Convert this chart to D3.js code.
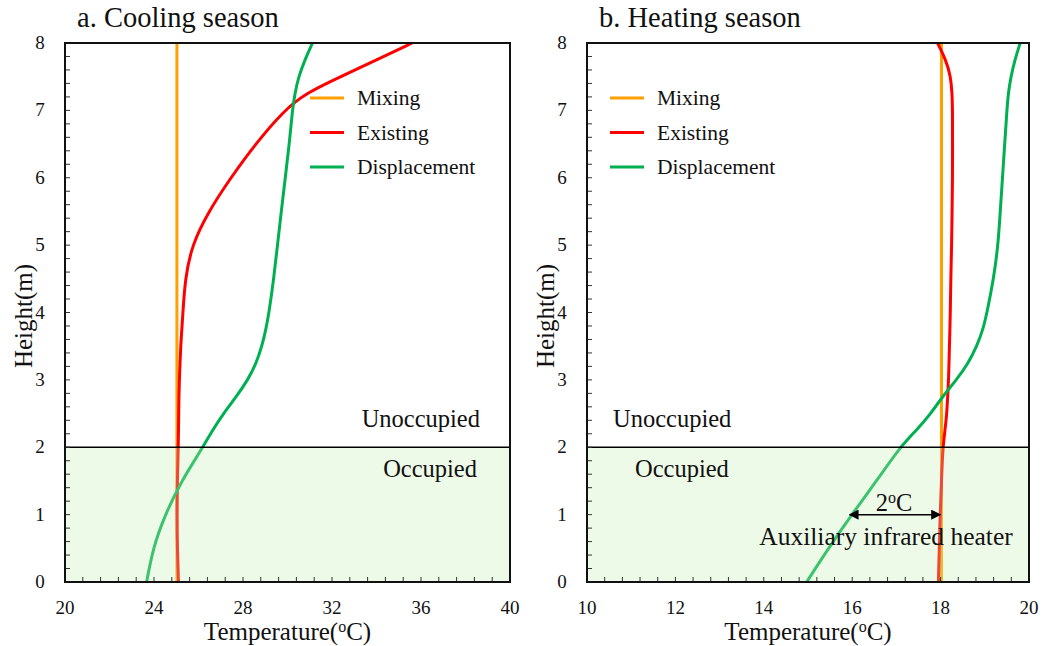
<!DOCTYPE html>
<html>
<head>
<meta charset="utf-8">
<script src="https://cdn.jsdelivr.net/npm/d3@7"></script>
<style>
  body { margin: 0; background: #fff; }
</style>
</head>
<body>
<div id="chart"></div>
<script>
// heights (m) where the profiles were read
const heights = [0, 0.5, 1, 1.5, 2, 2.25, 2.5, 2.75, 3, 3.25, 3.5, 3.75, 4, 4.5, 5, 5.5, 6, 6.5, 7, 7.25, 7.5, 7.75, 8]

// cooling season temperatures (oC)
const coolMixing       = [25.03, 25.03, 25.03, 25.03, 25.03, 25.03, 25.03, 25.03, 25.03, 25.03, 25.03, 25.03, 25.03, 25.03, 25.03, 25.03, 25.03, 25.03, 25.03, 25.03, 25.03, 25.03, 25.03]
const coolExisting     = [25.1, 25.05, 25.03, 25.05, 25.09, 25.1, 25.11, 25.12, 25.14, 25.17, 25.2, 25.25, 25.3, 25.4, 25.7, 26.45, 27.45, 28.55, 29.85, 30.8, 32.4, 34.0, 35.6]
const coolDisplacement = [23.67, 23.95, 24.5, 25.23, 26.2, 26.62, 27.12, 27.7, 28.22, 28.6, 28.85, 29.03, 29.17, 29.38, 29.55, 29.72, 29.9, 30.08, 30.22, 30.33, 30.5, 30.78, 31.12]

// heating season temperatures (oC)
const heatMixing       = [18.02, 18.02, 18.02, 18.02, 18.02, 18.02, 18.02, 18.02, 18.02, 18.02, 18.02, 18.02, 18.02, 18.02, 18.02, 18.02, 18.02, 18.02, 18.02, 18.02, 18.02, 18.02, 18.02]
const heatExisting     = [17.95, 17.97, 17.99, 18.02, 18.05, 18.1, 18.14, 18.16, 18.18, 18.19, 18.2, 18.21, 18.22, 18.23, 18.25, 18.26, 18.27, 18.27, 18.27, 18.26, 18.23, 18.12, 17.93]
const heatDisplacement = [14.97, 15.46, 15.99, 16.55, 17.08, 17.45, 17.78, 18.04, 18.36, 18.63, 18.82, 18.96, 19.05, 19.2, 19.3, 19.35, 19.4, 19.45, 19.5, 19.53, 19.59, 19.68, 19.8]

const seriesNames = ["Mixing", "Existing", "Displacement"]
const colors = ["#ffa000", "#ff0000", "#00b050"]

const panels = [
  { title: "a. Cooling season", left: 65, right: 510, xDomain: [20, 40], xTicks: [20, 24, 28, 32, 36, 40], minor: 0.8,
    series: [coolMixing, coolExisting, coolDisplacement], legendX: 310,
    unocc: [480, "end"], occ: [477, "end"] },
  { title: "b. Heating season", left: 587, right: 1029, xDomain: [10, 20], xTicks: [10, 12, 14, 16, 18, 20], minor: 0.4,
    series: [heatMixing, heatExisting, heatDisplacement], legendX: 610,
    unocc: [613, "start"], occ: [635, "start"] }
]

const plotTop = 43, plotBottom = 582
const svg = d3.select("#chart").append("svg")
  .attr("width", 1044)
  .attr("height", 646)
  .attr("font-family", "'Liberation Serif', 'Times New Roman', Tinos, 'DejaVu Serif', serif")
  .style("font-family", "'Liberation Serif', 'Times New Roman', Tinos, 'DejaVu Serif', serif")
  .attr("fill", "#111")

const y = d3.scaleLinear().domain([0, 8]).range([plotBottom, plotTop])

panels.forEach(function(p) {
  const x = d3.scaleLinear().domain(p.xDomain).range([p.left, p.right])
  const g = svg.append("g")

  // profiles
  const line = d3.line()
    .x(function(d) { return x(d[0]) })
    .y(function(d) { return y(d[1]) })
    .curve(d3.curveBasis)

  p.series.forEach(function(s, i) {
    g.append("path")
      .datum(s.map(function(v, k) { return [v, heights[k]] }))
      .attr("d", line)
      .attr("fill", "none")
      .attr("stroke", colors[i])
      .attr("stroke-width", 3)
  })

  // occupied zone shading, laid over the lines so they look faded
  g.append("rect")
    .attr("x", p.left).attr("y", y(2))
    .attr("width", p.right - p.left).attr("height", y(0) - y(2))
    .attr("fill", "#c8f0b4").attr("opacity", 0.3)

  g.append("line")
    .attr("x1", p.left).attr("x2", p.right)
    .attr("y1", y(2)).attr("y2", y(2))
    .attr("stroke", "#000").attr("stroke-width", 1.5)

  // minor ticks, inward
  g.selectAll(".xt").data(d3.range(p.xDomain[0], p.xDomain[1] + 1e-6, p.minor)).enter()
    .append("line")
    .attr("x1", function(d) { return x(d) }).attr("x2", function(d) { return x(d) })
    .attr("y1", plotBottom).attr("y2", plotBottom - 5)
    .attr("stroke", "#333").attr("stroke-width", 1)
  g.selectAll(".yt").data(d3.range(0, 8.0001, 0.2)).enter()
    .append("line")
    .attr("x1", p.left).attr("x2", p.left + 5)
    .attr("y1", function(d) { return y(d) }).attr("y2", function(d) { return y(d) })
    .attr("stroke", "#333").attr("stroke-width", 1)

  // frame
  g.append("rect")
    .attr("x", p.left).attr("y", plotTop)
    .attr("width", p.right - p.left).attr("height", plotBottom - plotTop)
    .attr("fill", "none").attr("stroke", "#111").attr("stroke-width", 2)

  // tick labels
  g.selectAll(".xl").data(p.xTicks).enter()
    .append("text")
    .attr("x", function(d) { return x(d) }).attr("y", 614)
    .attr("text-anchor", "middle").attr("font-size", 19)
    .text(function(d) { return d })
  g.selectAll(".yl").data(d3.range(0, 9)).enter()
    .append("text")
    .attr("x", p.left - 25).attr("y", function(d) { return y(d) + 6 })
    .attr("text-anchor", "middle").attr("font-size", 19)
    .text(function(d) { return d })

  // axis titles
  const xt = g.append("text")
    .attr("x", (p.left + p.right) / 2).attr("y", 640)
    .attr("text-anchor", "middle").attr("font-size", 25)
  xt.append("tspan").text("Temperature(")
  xt.append("tspan").attr("baseline-shift", "super").attr("font-size", 16).text("o")
  xt.append("tspan").text("C)")

  g.append("text")
    .attr("transform", "translate(" + (p.left - 33) + ",316) rotate(-90)")
    .attr("text-anchor", "middle").attr("font-size", 25)
    .text("Height(m)")

  g.append("text")
    .attr("x", p.left + 12).attr("y", 27)
    .attr("font-size", 28.5)
    .text(p.title)

  // legend
  seriesNames.forEach(function(n, i) {
    const ly = 98 + i * 34.5
    g.append("line")
      .attr("x1", p.legendX).attr("x2", p.legendX + 34)
      .attr("y1", ly).attr("y2", ly)
      .attr("stroke", colors[i]).attr("stroke-width", 3)
    g.append("text")
      .attr("x", p.legendX + 47).attr("y", ly + 7)
      .attr("font-size", 21.5)
      .text(n)
  })

  // zone labels
  g.append("text").attr("x", p.unocc[0]).attr("y", 427)
    .attr("text-anchor", p.unocc[1]).attr("font-size", 24.5).text("Unoccupied")
  g.append("text").attr("x", p.occ[0]).attr("y", 477)
    .attr("text-anchor", p.occ[1]).attr("font-size", 24.5).text("Occupied")
})

// annotation in heating panel
const xb = d3.scaleLinear().domain(panels[1].xDomain).range([panels[1].left, panels[1].right])
svg.append("defs").append("marker")
  .attr("id", "arr").attr("viewBox", "0 0 10 10")
  .attr("refX", 9).attr("refY", 5)
  .attr("markerWidth", 10).attr("markerHeight", 10)
  .attr("markerUnits", "userSpaceOnUse")
  .attr("orient", "auto-start-reverse")
  .append("path").attr("d", "M0,0 L10,5 L0,10 z").attr("fill", "#000")
svg.append("line")
  .attr("x1", xb(15.94)).attr("x2", xb(17.99))
  .attr("y1", y(1)).attr("y2", y(1))
  .attr("stroke", "#000").attr("stroke-width", 1.5)
  .attr("marker-start", "url(#arr)").attr("marker-end", "url(#arr)")
const ann = svg.append("text")
  .attr("x", 894).attr("y", 511)
  .attr("text-anchor", "middle").attr("font-size", 24.5)
ann.append("tspan").text("2")
ann.append("tspan").attr("baseline-shift", "super").attr("font-size", 16).text("o")
ann.append("tspan").text("C")
svg.append("text")
  .attr("x", 886).attr("y", 545)
  .attr("text-anchor", "middle").attr("font-size", 25.5)
  .text("Auxiliary infrared heater")
</script>
</body>
</html>
